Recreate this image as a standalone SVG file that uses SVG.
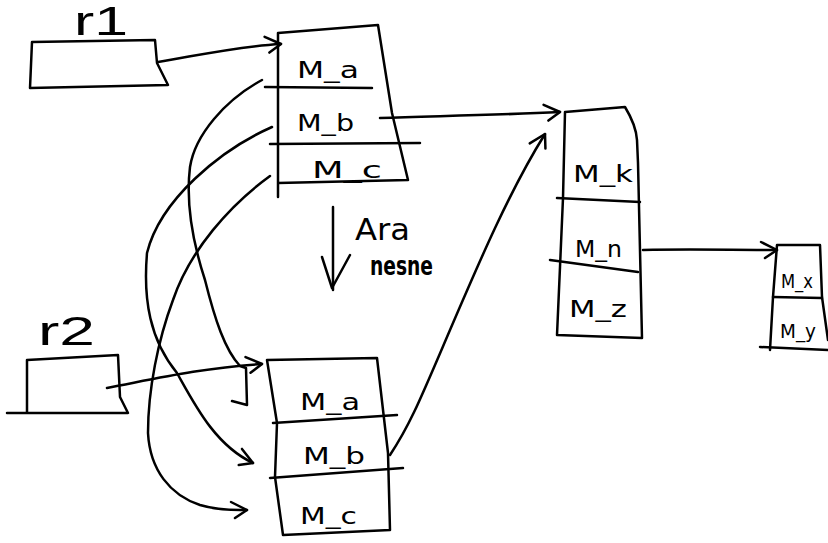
<svg xmlns="http://www.w3.org/2000/svg" width="828" height="543" viewBox="0 0 828 543">
<defs>
<style>
.s{fill:none;stroke:#000;stroke-width:2.5;stroke-linecap:round;stroke-linejoin:round}
.t{font-family:"DejaVu Sans","Liberation Sans",sans-serif;fill:#000}
.lbl{font-size:23px}
.big{font-family:"Liberation Sans","DejaVu Sans",sans-serif;font-size:40px}
.sm{font-size:19px}
</style>
<marker id="ah" viewBox="0 0 20 20" refX="18" refY="10" markerWidth="20" markerHeight="20" markerUnits="userSpaceOnUse" orient="auto">
<path d="M2,2 L18,10 L6,18" fill="none" stroke="#000" stroke-width="2.5" stroke-linecap="round" stroke-linejoin="round"/>
</marker>
</defs>
<rect width="828" height="543" fill="#fff"/>

<g id="r1">
<path class="s" d="M32,42 L155,40 L157,63 L168,85 L30,88 Z"/>
<text class="t big" x="74" y="35" textLength="54" lengthAdjust="spacingAndGlyphs">r1</text>
</g>

<g id="r2">
<path class="s" d="M27,413 L27,360 L118,355 L120,397 L128,413 L7,413"/>
<text class="t big" x="38" y="345" textLength="57" lengthAdjust="spacingAndGlyphs">r2</text>
</g>

<g id="objA">
<path class="s" d="M278,197 L278,33 L378,25 L392,113 L408,180 L278,183"/>
<path class="s" d="M265,87 L372,88"/>
<path class="s" d="M270,144 L420,143"/>
<text class="t lbl" x="297" y="78" textLength="62" lengthAdjust="spacingAndGlyphs">M_a</text>
<text class="t lbl" x="297" y="131" textLength="57" lengthAdjust="spacingAndGlyphs">M_b</text>
<text class="t lbl" x="312" y="178" textLength="70" lengthAdjust="spacingAndGlyphs">M_c</text>
</g>

<g id="objD">
<path class="s" d="M267,360 L277,423 L275,477 L283,535 L390,530 L388,453 L377,358 Z"/>
<path class="s" d="M273,423 L397,415"/>
<path class="s" d="M270,478 L403,468"/>
<text class="t lbl" x="300" y="410" textLength="60" lengthAdjust="spacingAndGlyphs">M_a</text>
<text class="t lbl" x="303" y="464" textLength="62" lengthAdjust="spacingAndGlyphs">M_b</text>
<text class="t lbl" x="300" y="524" textLength="57" lengthAdjust="spacingAndGlyphs">M_c</text>
</g>

<g id="objB">
<path class="s" d="M565,112 L625,107 Q636,125 637,140 L638,163 L642,338 L557,335 L560,267 L563,198 Z"/>
<path class="s" d="M557,198 L640,202"/>
<path class="s" d="M550,260 L638,272"/>
<text class="t lbl" x="573" y="182" textLength="60" lengthAdjust="spacingAndGlyphs">M_k</text>
<text class="t lbl" x="575" y="257" textLength="47" lengthAdjust="spacingAndGlyphs">M_n</text>
<text class="t lbl" x="569" y="317" textLength="58" lengthAdjust="spacingAndGlyphs">M_z</text>
</g>

<g id="objC">
<path class="s" d="M770,350 L773,297 L777,245 L820,245 L822,297 L828,340"/>
<path class="s" d="M773,297 L822,298"/>
<path class="s" d="M760,347 L828,350"/>
<text class="t sm" x="781" y="288" textLength="32" lengthAdjust="spacingAndGlyphs">M_x</text>
<text class="t sm" x="780" y="338" textLength="36" lengthAdjust="spacingAndGlyphs">M_y</text>
</g>

<g id="note">
<path class="s" d="M333,207 L333,290"/>
<path class="s" d="M322,257 L332,288 L350,255"/>
<text class="t" font-size="30" x="355" y="240" textLength="55" lengthAdjust="spacingAndGlyphs">Ara</text>
<text class="t" font-size="27" font-weight="bold" x="370" y="275" textLength="63" lengthAdjust="spacingAndGlyphs">nesne</text>
</g>

<g id="connectors">
<path class="s" marker-end="url(#ah)" d="M158,62 C200,55 240,46 281,44"/>
<path class="s" marker-end="url(#ah)" d="M380,118 C440,116 500,115 560,112"/>
<path class="s" marker-end="url(#ah)" d="M643,250 C690,249 730,250 777,250"/>
<path class="s" marker-end="url(#ah)" d="M390,455 C410,425 420,400 450,330 C480,260 510,190 545,134"/>
<path class="s" marker-end="url(#ah)" d="M107,388 C150,380 200,368 262,364"/>
<path class="s" d="M262,80 C225,100 195,135 190,167 C186,200 192,240 205,280 C215,320 225,350 240,366 L246,368 L247,405 L232,401"/>
<path class="s" marker-end="url(#ah)" d="M272,127 C220,150 160,200 147,253 C143,300 150,340 177,373 C195,405 215,445 253,463"/>
<path class="s" marker-end="url(#ah)" d="M270,176 C230,205 190,250 173,300 C158,340 148,390 148,433 C150,470 170,495 200,505 C220,511 235,510 247,510"/>
</g>
</svg>
